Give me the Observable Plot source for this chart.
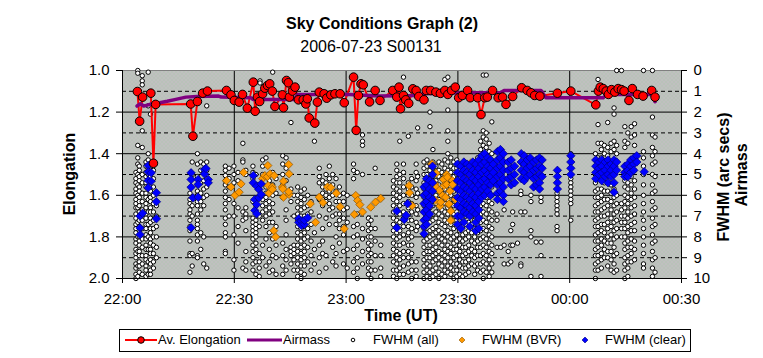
<!DOCTYPE html>
<html><head><meta charset="utf-8">
<script src="https://cdn.jsdelivr.net/npm/d3@7"></script>
<script src="https://cdn.jsdelivr.net/npm/@observablehq/plot@0.6"></script>
<style>
body{margin:0;background:#fff;font-family:"Liberation Sans",Arial,sans-serif;}
#wrap{position:relative;width:763px;height:358px;overflow:hidden;background:#fff}
#wrap svg{position:absolute;left:0;top:0}
.t{position:absolute;white-space:nowrap;color:#000;line-height:16px;font-size:16px}
.b{font-weight:bold}
.rot{transform:translate(-50%,-50%) rotate(-90deg)}
.ctr{transform:translateX(-50%)}
#legend{position:absolute;left:119px;top:329px;width:572px;height:23px;border:1px solid #000;box-sizing:border-box;font-size:13px}
#legend .i{position:absolute;top:3px;line-height:14px;white-space:nowrap}
#legend svg{position:absolute;top:0}
</style></head><body><div id="wrap"></div>
<script>
// ---- tick labels ----
const xTickMin = [0, 30, 60, 90, 120, 150];          // minutes after 22:00 UT
const xTickLabels = ["22:00", "22:30", "23:00", "23:30", "00:00", "00:30"];
const leftTicks = [1.0, 1.2, 1.4, 1.6, 1.8, 2.0];
const rightTicks = [0, 1, 2, 3, 4, 5, 6, 7, 8, 9, 10];
const rightTickLabels = ["0","1","2","3","4","5","6","7","8","9","10"];

// ---- Av. Elongation (left axis) ----
const elongT = [4.0,4.6,5.4,7.6,8.3,8.9,18.3,18.9,20.1,21.5,22.8,
27.9,29.1,30.0,31.3,32.2,33.5,35.1,35.6,36.2,36.8,37.6,38.2,38.9,39.5,40.2,40.9,42.9,43.2,44.0,44.5,44.8,45.6,46.3,47.2,48.5,49.2,49.6,50.1,51.6,52.3,52.8,54.1,54.8,55.9,57.0,58.4,59.5,
62.0,62.7,63.3,64.0,64.6,66.3,67.8,69.1,
72.5,73.6,74.2,74.6,75.4,76.0,76.8,77.9,78.8,79.5,80.9,81.5,82.7,84.1,85.3,86.5,87.3,88.3,89.3,90.2,91.2,92.6,93.3,95.3,96.2,97.2,97.9,99.3,100.8,102.0,102.9,104.7,107.1,108.6,109.6,110.6,112.0,116.7,120.3,
127.0,127.7,128.2,129.0,129.8,130.4,131.2,132.1,133.0,133.9,134.6,135.9,136.8,138.2,139.7,142.0,142.9];
const elongV = [1.101,1.244,1.128,1.109,1.446,1.163,1.161,1.316,1.149,1.109,1.099,
1.096,1.117,1.144,1.152,1.115,1.181,1.056,1.196,1.128,1.149,1.112,1.085,1.072,1.064,1.099,1.173,1.117,1.179,1.048,1.059,1.128,1.099,1.080,1.141,1.141,1.161,1.136,1.228,1.253,1.152,1.104,1.112,1.133,1.117,1.112,1.112,1.155,
1.032,1.288,1.120,1.064,1.069,1.151,1.096,1.144,
1.096,1.128,1.080,1.184,1.120,1.141,1.158,1.088,1.096,1.125,1.141,1.096,1.096,1.104,1.110,1.096,1.115,1.096,1.080,1.131,1.120,1.096,1.131,1.131,1.212,1.131,1.128,1.096,1.131,1.128,1.163,1.125,1.083,1.096,1.107,1.120,1.123,1.109,1.099,
1.165,1.099,1.080,1.087,1.099,1.115,1.092,1.104,1.087,1.092,1.099,1.144,1.087,1.115,1.123,1.096,1.128];

// ---- Airmass (right axis) ----
const airT = [3.9,4.8,5.7,8.0,10,12,14,17,20,25.8,26.5,34.5,35.0,46.1,47.0,61,66,69,79,80.8,92,101.5,102.4,112.3,113.6,129,129.9,142,142.9];
const airV = [1.71,1.60,1.71,1.60,1.55,1.48,1.40,1.28,1.25,1.23,1.28,1.31,1.39,1.39,1.15,1.15,1.20,1.23,1.20,1.12,1.07,1.07,0.96,0.96,1.31,1.31,1.15,1.15,1.50];

// ---- FWHM (all): [minute, FWHM values (arc secs)...] ----
const fwhmAll = [
[3.6,4.9,5.2,5.4,5.7,5.9,6.2,6.4,6.6,6.9,7.1,7.4,7.6,7.8,8.1,8.3,8.6,8.8,9.0,9.3,9.5,9.8,10.0],
[4.1,0.0,0.13,3.6,4.2,4.5,5.0,5.5,6.0,6.6,7.3,8.0,8.7,9.4,9.9],
[4.5,4.6,4.8,5.1,5.3,5.6,5.8,6.1,6.3,6.5,6.8,7.0,7.2,7.5,7.7,8.0,8.2,8.4,8.7,8.9,9.2,9.4,9.7],
[5.3,0.25,0.5,0.69,2.9,3.7,5.0,5.4,5.9,6.3,6.7,7.2,7.6,8.1,8.5,8.9,9.3,9.8],
[6.3,4.4,4.6,4.9,5.1,5.4,5.6,5.9,6.1,6.4,6.6,6.9,7.1,7.4,7.6,7.9,8.1,8.4,8.6,8.9,9.1,9.4,9.6,9.9],
[6.9,0.08,1.7,4.0,4.3,4.7,5.0,5.6,6.2,6.8,7.4,8.0,8.6,9.2,9.8],
[7.5,2.1,4.6,4.8,5.1,5.3,5.6,5.8,6.1,6.3,6.6,6.8,7.1,7.3,7.6,7.8,8.1,8.3,8.6,8.8,9.1,9.3,9.6,9.8],
[8.3,4.5,4.8,5.2,5.6,6.0,6.4,6.8,7.2,7.6,8.0,8.4,8.8,9.2,9.5],
[9.1,6.5,7.0,7.5,8.0,8.5,9.0],
[18.1,5.9,6.2,6.4,6.7,6.9,7.2,7.5,7.7,8.2,8.8,8.9,9.7],
[18.7,4.4,5.0,6.5,7.0,8.8,9.4],
[20.1,4.0,4.5,5.1,5.5,5.8,6.0,6.3,6.5,6.9,7.2,7.4,7.6,7.9,8.2,8.9,9.0],
[21.0,4.4,4.8,5.4,5.9,6.3,6.7,7.8,8.6],
[21.8,4.5,4.9,5.3,5.7,6.1,6.5,8.0,9.3],
[22.6,1.7,4.4,4.8,5.2,5.6,6.0,9.5],
[27.6,4.6,4.8,5.05,5.3,5.5,5.8,6.1,6.4,6.7,7.1,7.4,7.8,8.0,8.7,8.8],
[28.6,4.7,5.2,5.6,6.2,7.0],
[29.9,4.6,5.0,5.4,6.4,7.0,7.9,9.1,9.6],
[31.0,4.9,5.3,6.6,7.5,8.3],
[32.3,3.5,4.3,4.4,6.8,7.2,9.5],
[33.1,4.8,5.0,6.6,6.9,7.1,7.7,8.7,9.2,9.6],
[35.0,4.6,4.9,5.2,6.3,7.1,7.3,7.5,7.7,7.9,8.1,8.4,8.7,9.0,9.3,9.6],
[35.8,5.0,6.5,7.2,7.4,7.6,7.8,8.0,8.3,8.6,9.2,9.8],
[36.7,5.5,7.0,7.5,8.8,9.2,9.5,9.9],
[36.9,0.5,0.6],
[37.6,4.3,4.6,5.0,6.2,6.5,6.8,7.2,8.4,9.0],
[38.5,4.2,5.6,5.9,6.1,6.4,6.7,7.0,7.5,8.1,9.4],
[39.4,5.3,5.8,6.3,6.6,6.9,7.3,7.8,8.6,9.2,9.7],
[40.3,0.08,4.9,5.5,6.0,6.4,6.8,7.3,8.1,8.9,9.6],
[41.2,5.2,5.9,7.5,8.4,9.0,9.8],
[43.0,4.1,4.5,5.0,5.5,6.1,8.3,8.9,9.4,9.8],
[43.9,4.2,4.7,5.3,6.7,7.2,7.9,8.6,9.1,9.6],
[45.2,2.5,5.7,6.3,8.5,8.7,8.9,9.3],
[46.0,6.0,7.0,8.4,8.6,8.8,9.1,9.6],
[47.0,5.6,6.0,6.3,6.6,6.9,7.2,7.5,7.8,8.1,8.4,8.7,9.0,9.3,9.6,9.9],
[47.9,5.8,6.1,6.4,6.7,7.0,7.3,7.6,7.9,8.2,8.5,8.8,9.1,9.4,9.7,10.0],
[48.8,5.7,6.2,6.6,7.0,7.5,7.8,8.1,8.4,8.7,9.0,9.4,9.8],
[49.7,6.0,6.5,6.9,7.6,8.0,8.5,9.2],
[50.6,6.3,6.8,7.4,8.2,8.9,9.6],
[51.5,3.4,7.8,8.6,9.3],
[52.8,4.7,5.1,5.4,6.2,7.0,8.4,9.0,9.7],
[53.7,5.3,5.6,5.9,6.2,6.5,7.6,8.2,8.8],
[54.6,5.0,5.4,5.7,6.0,6.3,7.1,8.9,9.5],
[55.5,4.6,5.2,5.5,5.8,6.1,6.4,6.7,7.4],
[56.4,5.0,5.5,6.0,6.6,7.0,8.5,9.2],
[57.3,5.2,5.8,6.3,6.9,7.4,8.0,8.8,9.4],
[58.2,5.6,6.0,6.3,6.6,6.9,7.2,7.6,8.3],
[59.3,5.9,6.3,6.7,7.1,7.5,7.9,8.7,9.3],
[60.3,6.0,6.6,7.3,8.6,9.5],
[62.0,4.5,4.8,5.2,7.5,8.0,8.6,9.2,9.7],
[63.0,4.9,6.9,7.4,7.9,8.4,9.0,9.5,10.0],
[64.4,3.1,3.4,3.6,5.0,7.6,8.1,8.7,9.3],
[66.0,7.1,7.4,7.7,8.0,8.3,8.6,8.9,9.2,9.5,9.8],
[66.7,7.2,7.6,8.0,8.4,8.8,9.2,9.6,10.0],
[67.8,4.7,7.6,8.2,8.9,9.6],
[69.3,8.4,8.9,9.5,9.9],
[72.7,5.3,5.6,5.9,6.2,6.5,6.8,7.1,7.4,7.7,8.0,8.3,8.6,8.9,9.2,9.6,9.9],
[73.6,4.5,4.8,5.1,5.4,5.7,6.0,6.3,6.6,6.9,7.2,7.5,7.8,8.1,8.4,8.7,9.0,9.3,9.6,10.0],
[74.4,3.4,5.0,5.4,5.8,6.1,6.5,6.9,7.3,7.7,8.0,8.4,8.8,9.1,9.5,9.8],
[75.4,0.32,4.5,4.9,5.2,5.6,6.0,6.4,6.8,7.1,7.5,7.9,8.3,8.7,9.0,9.4,9.8],
[76.7,3.16,5.4,5.7,6.0,6.3,6.6,6.9,7.2,7.5,7.8,8.1,8.4,8.7,9.0,9.3,9.7],
[77.6,5.2,5.6,6.0,6.4,6.8,7.2,7.6,8.0,8.4,8.8,9.2,9.6,10.0],
[78.8,4.5,4.9,5.3,5.7,6.1,6.5,6.9,7.3,7.7,9.2,9.6,9.9],
[79.2,2.76,5.1,5.9,6.7,7.5],
[80.9,4.4,4.7,5.0,5.4,5.7,6.1,6.5,6.8,7.2,7.6,7.9,8.2,8.5,8.8,9.1,9.4,9.7,10.0],
[81.7,4.3,4.6,5.0,5.3,5.7,6.0,6.4,6.7,7.1,7.4,7.8,8.1,8.4,8.7,9.0,9.3,9.6,9.9],
[82.5,2.0,2.7,4.5,4.8,5.2,5.5,5.9,6.2,6.6,7.0,7.3,7.7,8.0,8.4,8.7,9.0,9.4,9.7,10.0],
[83.3,3.8,4.4,4.7,5.1,5.4,5.8,6.1,6.5,6.9,7.2,7.6,7.9,8.3,8.6,8.9,9.2,9.6,9.9],
[84.1,4.6,4.9,5.3,5.7,6.0,6.4,6.8,7.1,7.5,7.8,8.2,8.5,8.8,9.1,9.5,9.8],
[84.9,4.4,4.8,5.1,5.5,5.8,6.2,6.6,6.9,7.3,7.7,8.0,8.3,8.7,9.0,9.3,9.7,10.0],
[85.7,4.5,4.9,5.2,5.6,5.9,6.3,6.7,7.0,7.4,7.8,8.1,8.4,8.8,9.1,9.4,9.8],
[86.5,0.43,4.3,4.7,5.0,5.4,5.7,6.1,6.4,6.8,7.2,7.5,7.9,8.2,8.6,8.9,9.2,9.6,9.9],
[87.3,0.32,1.9,2.9,3.4,4.0,4.4,4.8,5.1,5.5,5.9,6.2,6.6,6.9,7.3,7.7,8.0,8.4,8.7,9.0,9.4,9.7],
[88.1,4.2,4.6,4.9,5.3,5.6,6.0,6.4,6.7,7.1,7.4,7.8,8.1,8.5,8.8,9.2,9.5,9.8],
[88.9,4.4,4.7,5.1,5.4,5.8,6.2,6.5,6.9,7.2,7.6,8.0,8.3,8.6,9.0,9.3,9.6,10.0],
[89.7,4.3,4.7,5.0,5.4,5.7,6.1,6.5,6.8,7.2,7.5,7.9,8.2,8.6,8.9,9.3,9.6,9.9],
[90.5,4.5,4.8,5.2,5.5,5.9,6.3,6.6,7.0,7.4,7.7,8.1,8.4,8.7,9.1,9.4,9.8],
[91.3,4.6,5.0,5.3,5.7,6.1,6.4,6.8,7.1,7.5,7.9,8.2,8.5,8.9,9.2,9.5,9.9],
[92.1,4.7,5.1,5.4,5.8,6.2,6.6,7.0,7.4,7.8,8.1,8.5,8.8,9.2,9.5,9.8],
[92.9,4.5,4.9,5.3,5.7,6.1,6.5,6.9,7.3,7.7,8.0,8.4,8.7,9.1,9.4,9.7],
[93.7,4.6,5.0,5.4,5.8,6.2,6.6,7.0,7.4,7.8,8.2,8.6,8.9,9.3],
[94.5,4.4,4.8,5.2,5.6,6.0,6.4,6.8,7.2,7.6,8.0,8.3,8.7,9.0,9.4,9.8],
[95.3,4.2,4.6,5.0,5.4,5.8,6.2,6.6,7.0,7.4,7.8,8.2,8.5,8.9,9.3,9.6],
[96.1,3.4,3.8,4.1,4.5,4.9,5.3,5.7,6.1,6.5,6.9,7.3,7.7,8.1,8.5,8.9,9.3,9.7],
[96.8,0.22,2.9,3.2,3.6,4.0,4.4,4.8,5.2,5.6,6.0,6.4,6.8,7.2,7.6,8.0,8.4,8.8,9.2,9.6,10.0],
[97.6,0.22,3.0,3.3,3.7,4.1,4.5,4.9,5.3,5.7,6.1,6.5,6.9,7.3,7.7,8.1,8.5,8.9,9.3,9.7],
[98.4,3.5,3.9,4.3,4.7,5.1,5.5,5.9,6.3,6.7,7.1,7.5,7.9,8.3,8.7,9.1,9.5,9.9],
[99.1,2.47,4.0,4.4,4.8,5.2,5.6,6.0,6.4,6.8,7.2,7.6,8.0,8.4,8.8,9.3,9.7],
[100.5,6.9,7.2,8.5],
[101.5,8.5],
[102.4,6.7,8.4,9.3],
[103.5,8.7,9.3],
[104.2,7.7,8.4,9.2],
[104.7,6.8,7.4,8.4],
[106.0,8.3],
[106.9,5.8,5.96,6.8,9.3,9.4],
[108.0,6.8],
[109.6,6.0,6.3,7.7,8.0,9.9],
[111.0,8.25],
[112.3,6.1,6.3,8.25,8.9,9.9],
[116.6,5.9,6.1,6.3,6.5,6.7,6.9,7.5,7.7],
[120.3,4.0,5.2,5.4,5.6,5.8,6.0,6.2,6.4,7.2],
[126.9,4.0,4.3,4.6,5.0,5.4,5.8,6.1,6.5,6.8,7.2,7.5,7.9,8.2,8.6,8.9,9.3,9.6,10.0],
[127.6,0.43,2.6,3.5,4.2,4.6,5.2,5.7,6.1,6.4,6.8,7.1,7.5,7.8,8.2,8.5,8.9,9.2,9.6],
[128.5,3.5,3.8,4.2,4.6,5.3,5.7,6.0,6.3,6.7,7.0,7.4,7.7,8.1,8.4,8.8,9.1,9.5],
[129.3,3.6,4.0,5.4,5.8,6.2,6.6,7.0,7.4,7.8,8.2,8.6,9.0],
[130.2,2.5,3.7,4.1,5.4,5.8,6.2,6.5,6.9,7.3,7.6,8.0,8.3,8.7,9.0,9.4],
[131.1,3.5,3.9,5.5,5.9,6.3,6.7,7.1,7.5,7.9,8.3,8.7,9.1,9.6],
[131.9,1.8,2.1,3.4,3.8,5.7,6.1,6.5,6.9,7.3,7.7,8.1,8.5,8.9,9.3,9.7],
[132.6,0.0,3.6,4.0,6.0,6.4,6.8,7.2,7.6,8.0,8.8,9.6],
[133.9,0.0,6.4,6.7,7.0,7.3,7.6,8.0],
[134.8,2.7,3.4,3.7,5.3,5.6,6.0,6.3,6.6,7.0,7.3,7.6,8.0,8.3,8.6,9.0,9.3,9.6,10.0],
[135.6,3.0,3.5,5.4,5.7,6.1,6.4,6.8,7.1,7.5,7.8,8.2,8.5,8.9,9.2,9.5,9.9],
[136.5,2.7,3.2,5.1,5.5,5.9,6.2,6.6,7.0,7.4,7.7,8.1,8.5,8.8,9.2],
[137.4,2.56,3.1,3.6,4.8,5.3,5.7,6.1,6.5,6.9,7.3,7.7,8.2,8.6,9.1],
[139.8,0.0,3.9,4.2,4.6,5.0,5.5,6.0,6.4,6.8,7.2,7.6,8.0,8.4,8.8,9.3,9.5],
[142.2,0.0,2.24,3.1,3.7,4.1,4.5,5.0,5.5,5.9,6.3,6.7,7.1,7.5,7.9,8.3,8.7,9.1,9.5,9.9],
[142.9,3.2,3.9,4.4,5.1,5.8,6.6,7.4,8.2,9.0,9.7]
];

// ---- FWHM (BVR) ----
const bvrT = [27.9,29.1,30.2,31.3,31.8,32.5,37.6,38.2,38.9,39.0,39.6,40.7,39.1,40.2,39.3,40.2,40.6,41.1,42.9,43.2,43.0,43.2,44.6,44.7,44.7,44.6,50.4,51.8,52.8,53.8,55.0,55.9,57.4,58.4,59.5,62.2,62.6,63.1,63.7,64.4,66.6,67.9,69.3,76.9,77.0,77.7,82.7,83.0,83.9,84.1,84.2,84.1,85.0,85.2,85.9,85.4,86.1,86.3,86.7,87.0,87.2,87.0,87.5,87.6,87.9,88.1,88.1,88.5,88.6,89.3,93.5,93.6,93.5,93.7,93.6,93.8,92.6];
const bvrV = [5.3,5.6,6.0,5.85,5.45,4.9,5.2,5.05,5.1,4.57,4.97,5.05,5.53,5.6,5.9,5.72,7.7,8.0,5.6,6.09,5.69,5.32,4.52,4.97,5.96,5.83,6.41,7.3,6.09,6.35,5.6,5.63,5.9,6.55,7.61,6.92,6.01,6.25,6.45,6.8,6.57,6.33,6.15,5.53,5.88,6.5,5.45,4.49,5.48,5.61,4.94,6.25,5.77,6.52,6.01,6.33,5.24,5.53,6.09,5.0,5.13,5.48,6.44,6.41,5.8,6.76,7.21,5.29,5.48,6.2,4.44,4.76,5.0,5.3,5.6,5.88,5.13];

// ---- FWHM (clear): [minute, FWHM values...] ----
const fwhmClear = [
[4.7,7.57,7.89,7.0],[5.4,6.86],[6.9,4.57,4.87,5.29,5.64],[7.7,4.92,5.32],[9.1,5.88,6.31,7.13],
[18.4,4.92,5.24,5.61,7.56],[18.9,6.12],[20.3,5.24,5.48,6.09],[22.0,4.76,4.97],[22.4,4.71],[23.0,5.24,5.4],
[35.1,5.05,5.4],[35.5,6.2,6.73],[36.0,5.56,6.44,6.89],[36.6,5.72,6.12],[37.2,5.96,5.45],
[47.3,7.13,7.3],[48.0,7.24,7.45],[48.8,7.4,7.2],[49.7,7.08],
[73.6,6.76,7.56],[75.6,7.16],[76.1,6.96],[76.5,6.41],
[80.9,5.6,6.0,6.4,6.8,7.2,7.5,7.85],[81.6,5.2,5.5,5.9,6.3,6.7,7.1,7.4],[82.4,5.3,5.7,6.1,6.5,6.9],[83.2,4.6,5.0,5.4,5.8,6.2],
[89.9,4.5,4.9,5.3,5.7,6.1,6.5,7.0,7.4],[90.8,4.6,5.0,5.4,5.8,6.2,6.6,7.0,7.6],[91.6,4.4,4.8,5.2,5.6,6.0,6.4,6.8,7.3],
[92.4,4.5,4.9,5.3,5.7,6.1,6.5,6.9],[93.2,4.6,5.0,5.4,5.8,6.2,6.6,7.0,7.5],[94.0,4.4,4.8,5.2,5.6,6.0,6.4,6.8],
[94.8,4.5,4.9,5.3,5.7,6.1,6.5,6.9,7.3,7.7],[95.6,4.3,4.7,5.1,5.5,5.9,6.3,6.7,7.1,7.6],[96.4,4.1,4.5,4.9,5.3,5.7,6.1],
[97.2,4.0,4.4,4.8,5.2,5.6,6.0],[98.0,4.2,4.6,5.0,5.4,5.8],[98.8,4.3,4.7,5.1,5.5,6.0],[99.5,4.5,4.9,5.3],
[100.6,3.9,4.3,4.7,5.1,5.5,5.9,6.2],[101.4,3.8,4.2,4.6,5.0,5.4,5.8],[102.2,4.0,4.4,4.8,5.2,5.6,6.0,6.3],
[103.5,4.4,4.8,5.2],[104.3,4.3,4.7,5.1,5.5],[105.2,4.6,5.0,5.4],
[107.0,4.0,4.4,4.8,5.2],[107.8,4.1,4.5,4.9,5.3],[108.6,4.3,4.7,5.1],[109.4,4.2,4.6,5.0],
[110.3,4.4,4.8,5.2,5.6],[111.1,4.3,4.7,5.1,5.5],[111.9,4.2,4.6,5.0,5.4,5.7],[112.6,4.3,4.7,5.1],
[116.7,4.8,5.1,5.4,5.7],[120.3,4.1,4.4,4.7,5.0],
[127.0,4.3,4.6,4.9,5.2],[127.8,4.4,4.7,5.0],[128.6,4.3,4.6,4.9,5.3],[129.5,4.4,4.8,5.1],
[130.3,4.3,4.6,5.0,5.4],[131.1,4.5,4.8,5.1],[131.9,4.3,4.6,5.0,5.4,5.85],[132.6,4.4,4.8],
[134.8,4.6,4.9,5.1],[135.6,4.5,4.8,5.1],[136.4,4.3,4.6,4.9],[137.2,4.2,4.5,4.8],[138.0,4.1,4.4],[140.0,4.87]
];

// right axis (0–10) shares the frame with the left axis (1.0–2.0)
const toElong = v => 1 + v / 10;
const cols = c => c.flatMap(([t, ...vs]) => vs.map(v => ({t, y: toElong(v)})));
const elong = elongT.map((t, i) => ({t, y: elongV[i]}));
const air = airT.map((t, i) => ({t, y: toElong(airV[i])}));
const allPts = cols(fwhmAll);
const clearPts = cols(fwhmClear);
const bvrPts = bvrT.map((t, i) => ({t, y: toElong(bvrV[i])}));

const chart = Plot.plot({
  width: 763, height: 300,
  marginLeft: 122, marginRight: 82, marginTop: 70, marginBottom: 22,
  x: {domain: [0, 150]},
  y: {domain: [1, 2], reverse: true},
  style: {fontFamily: '"Liberation Sans", Arial, sans-serif', fontSize: "15px", color: "#000", background: "none", overflow: "visible"},
  marks: [
    Plot.frame({fill: "url(#bgdots)", stroke: null}),
    Plot.ruleY(rightTicks.filter(d => d % 2 === 1).map(toElong), {stroke: "#000", strokeDasharray: "4,3", strokeWidth: 1}),
    Plot.ruleY(leftTicks.slice(1, -1), {stroke: "#000", strokeWidth: 1}),
    Plot.ruleX(xTickMin.slice(1, -1), {stroke: "#000", strokeWidth: 1}),
    Plot.ruleY([1.0], {stroke: "#808080"}),
    Plot.dot(allPts, {x: "t", y: "y", r: 2.2, fill: "#fff", stroke: "#000", strokeWidth: 1}),
    Plot.dot(bvrPts, {x: "t", y: "y", symbol: "diamond2", r: 3.7, fill: "#ff9900", stroke: "#8a5200", strokeWidth: 0.7}),
    Plot.dot(clearPts, {x: "t", y: "y", symbol: "diamond2", r: 3.8, fill: "#0000ff", stroke: "#000080", strokeWidth: 0.7}),
    Plot.line(elong, {x: "t", y: "y", stroke: "#ff0000", strokeWidth: 2}),
    Plot.line(air, {x: "t", y: "y", stroke: "#800080", strokeWidth: 3.5}),
    Plot.dot(elong, {x: "t", y: "y", r: 4.3, fill: "#ff0000", stroke: "#000", strokeWidth: 1}),
    Plot.ruleX([0, 150], {stroke: "#000"}),
    Plot.ruleY([2.0], {stroke: "#000"}),
    Plot.axisY(leftTicks, {anchor: "left", tickSize: 6, tickPadding: 7, tickFormat: d => d.toFixed(1), label: null}),
    Plot.axisY(rightTicks.map(toElong), {anchor: "right", tickSize: 5, tickPadding: 7, tickFormat: (d, i) => rightTickLabels[i], label: null}),
    Plot.axisX(xTickMin, {anchor: "bottom", tickSize: 5, tickPadding: 10, tickFormat: (d, i) => xTickLabels[i], label: null})
  ]
});

// gray plot-area fill with fine green speckle
const defs = d3.select(chart).insert("defs", ":first-child");
const pat = defs.append("pattern").attr("id", "bgdots").attr("width", 4).attr("height", 4).attr("patternUnits", "userSpaceOnUse");
pat.append("rect").attr("width", 4).attr("height", 4).attr("fill", "#c0c0c0");
pat.append("rect").attr("x", 1).attr("y", 1).attr("width", 1).attr("height", 1).attr("fill", "#a3c8a3");
pat.append("rect").attr("x", 3).attr("y", 3).attr("width", 1).attr("height", 1).attr("fill", "#a3c8a3");

const wrap = document.getElementById("wrap");
wrap.appendChild(chart);

function addText(txt, cls, style) {
  const d = document.createElement("div");
  d.className = "t " + cls;
  d.textContent = txt;
  d.setAttribute("style", style);
  wrap.appendChild(d);
  return d;
}
addText("Sky Conditions Graph (2)", "b ctr", "left:382px;top:16px");
addText("2006-07-23 S00131", "ctr", "left:371px;top:39px");
addText("Elongation", "b rot", "left:70px;top:174px");
addText("FWHM (arc secs)", "b rot", "left:724px;top:177px");
addText("Airmass", "b rot", "left:742px;top:175px");
addText("Time (UT)", "b ctr", "left:401px;top:308px");

// legend
const legend = document.createElement("div");
legend.id = "legend";
const items = [
  {label: "Av. Elongation", x: 38, sym: `<line x1="5" x2="37" y1="10" y2="10" stroke="#ff0000" stroke-width="2"/><circle cx="21" cy="10" r="3.3" fill="#ff0000" stroke="#000"/>`},
  {label: "Airmass", x: 163, sym: `<line x1="127" x2="162" y1="10" y2="10" stroke="#800080" stroke-width="3"/>`},
  {label: "FWHM (all)", x: 253, sym: `<circle cx="233" cy="10" r="1.8" fill="#fff" stroke="#000"/>`},
  {label: "FWHM (BVR)", x: 362, sym: `<path d="M342,7 L345,10 L342,13 L339,10 Z" fill="#ff9900" stroke="#8a5200" stroke-width="0.6"/>`},
  {label: "FWHM (clear)", x: 485, sym: `<path d="M465,7 L468,10 L465,13 L462,10 Z" fill="#0000ff" stroke="#000080" stroke-width="0.6"/>`}
];
let syms = "";
for (const it of items) {
  const s = document.createElement("span");
  s.className = "i";
  s.style.left = it.x + "px";
  s.textContent = it.label;
  legend.appendChild(s);
  syms += it.sym;
}
legend.insertAdjacentHTML("afterbegin", `<svg width="570" height="21" style="left:0;top:0">${syms}</svg>`);
wrap.appendChild(legend);
</script></body></html>
